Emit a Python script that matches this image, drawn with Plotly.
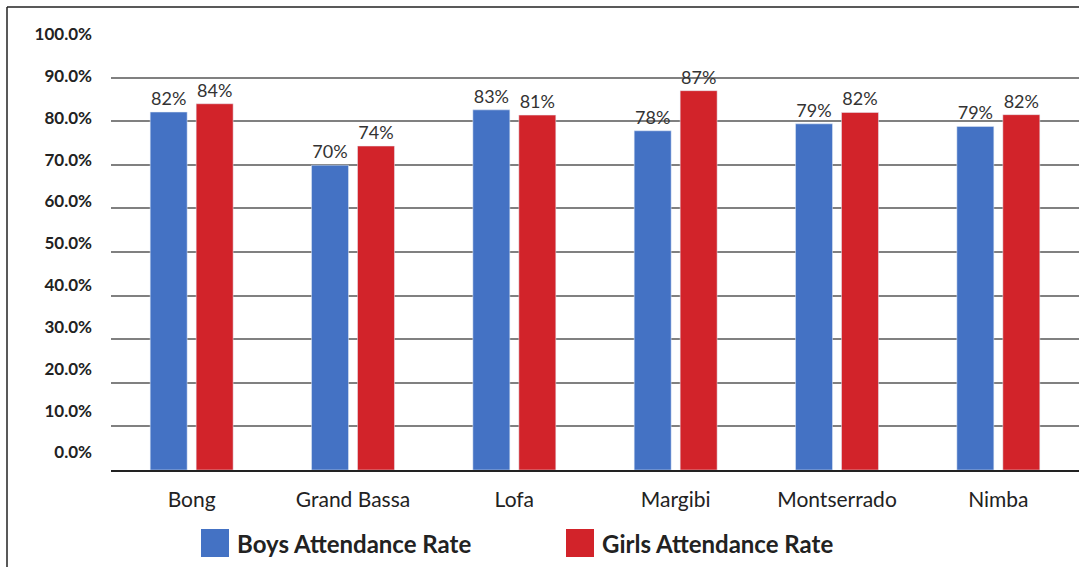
import plotly.graph_objects as go

counties = ["Bong", "Grand Bassa", "Lofa", "Margibi", "Montserrado", "Nimba"]
boys = [82.1, 69.9, 82.6, 77.8, 79.4, 78.8]
girls = [84.0, 74.3, 81.4, 87.0, 82.0, 81.5]
y_ticks = [0, 10, 20, 30, 40, 50, 60, 70, 80, 90, 100]
y_ticklabels = [f"{v:.1f}%" for v in y_ticks]
series_names = ["Boys Attendance Rate", "Girls Attendance Rate"]
BLUE = "#4472C4"
RED = "#D2232A"

W, H = 1079, 567
L, R, T, B = 111, 0, 34, 97
pw, ph = W - L - R, H - T - B

def px_x(x):
    return (x - L) / pw

def px_y(y):
    return (H - B - y) / ph

fig = go.Figure()
for name, vals, col in [(series_names[0], boys, BLUE), (series_names[1], girls, RED)]:
    fig.add_trace(go.Bar(
        x=counties, y=vals, name=name, marker_color=col,
        texttemplate="%{y:.0f}%", textposition="outside",
        textfont=dict(family="Lato", size=18, color="#333333"),
        cliponaxis=False, showlegend=False,
    ))

# invisible trace to anchor the label axis
fig.add_trace(go.Scatter(x=[counties[0]], y=[0], yaxis="y2", mode="markers",
                         marker=dict(opacity=0), showlegend=False, hoverinfo="skip"))

fig.update_layout(
    width=W, height=H,
    margin=dict(l=L, r=R, t=T, b=B),
    paper_bgcolor="white", plot_bgcolor="white",
    barmode="group", bargap=0.43, bargroupgap=0.196,
    font=dict(family="Lato", color="#222222"),
    xaxis=dict(
        showline=True, linecolor="#222222", linewidth=1.5,
        tickfont=dict(family="Lato", size=21, color="#222222"),
        ticks="", ticklabelstandoff=10,
    ),
    yaxis=dict(
        range=[0, 100], tickvals=y_ticks, showticklabels=False,
        showgrid=True, gridcolor="#808080", gridwidth=1.5,
        zeroline=False,
    ),
    yaxis2=dict(
        overlaying="y", side="left", range=[-4.18, 100],
        tickvals=y_ticks, ticktext=y_ticklabels,
        showgrid=False, zeroline=False, showline=False,
        tickfont=dict(family="Lato", size=17, color="#222222", weight="bold"),
        ticks="", ticklabelstandoff=18,
    ),
    showlegend=False,
)

# frame lines (top and left edges of the chart box)
fig.add_shape(type="line", xref="paper", yref="paper",
              x0=px_x(7), x1=px_x(W + 5), y0=px_y(7), y1=px_y(7),
              line=dict(color="#222222", width=1.5))
fig.add_shape(type="line", xref="paper", yref="paper",
              x0=px_x(7), x1=px_x(7), y0=px_y(7), y1=px_y(H + 5),
              line=dict(color="#222222", width=1.5))

# custom legend
legend_items = [(series_names[0], BLUE, 201, 235), (series_names[1], RED, 566, 600)]
for name, col, sx, tx in legend_items:
    fig.add_shape(type="rect", xref="paper", yref="paper",
                  x0=px_x(sx), x1=px_x(sx + 28), y0=px_y(529), y1=px_y(557),
                  fillcolor=col, line=dict(width=0))
    fig.add_annotation(xref="paper", yref="paper", x=px_x(tx), y=px_y(543),
                       xanchor="left", yanchor="middle", showarrow=False,
                       text=f"<b>{name}</b>",
                       font=dict(family="Lato", size=24, color="#222222"))

fig.write_html("out.html")
